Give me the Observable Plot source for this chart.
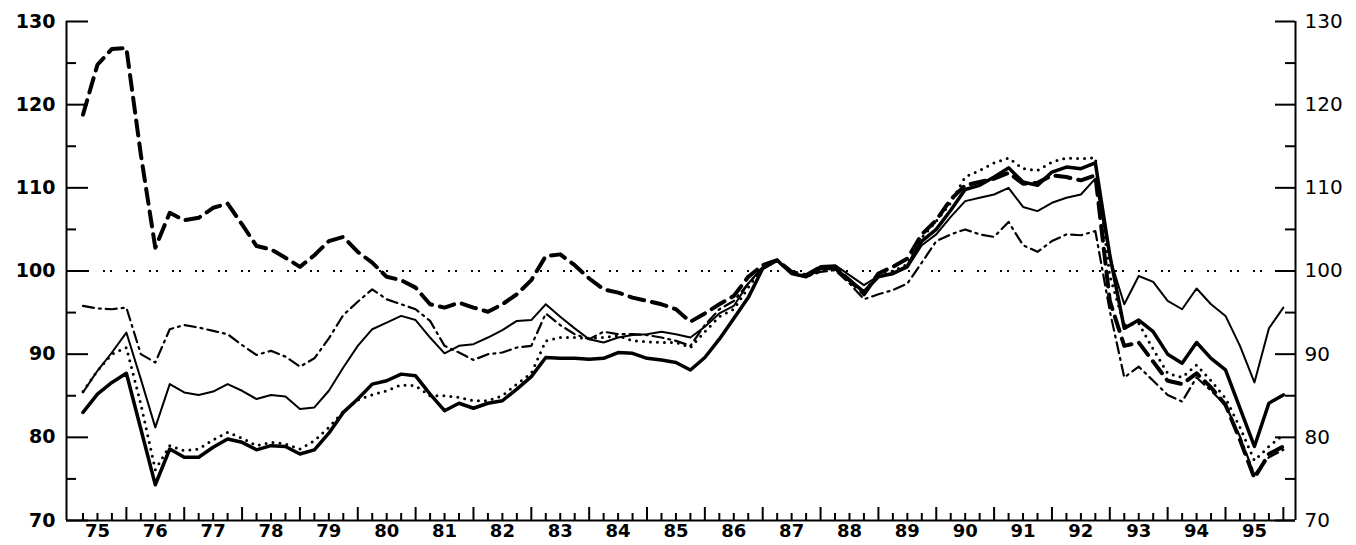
<!DOCTYPE html>
<html>
<head>
<meta charset="utf-8">
<script src="https://cdn.jsdelivr.net/npm/d3@7"></script>
<script src="https://cdn.jsdelivr.net/npm/@observablehq/plot@0.6"></script>
<style>
  html, body { margin: 0; padding: 0; background: #fff; }
  #chart svg { display: block; }
</style>
</head>
<body>
<div id="chart"></div>
<script>
// ---- data: quarterly index values, 1975Q1 .. 1995Q4 ----
const years = d3.range(1975, 1996);          // 75 .. 95
const yTicks = d3.range(70, 131, 5);
const yLabels = d3.range(70, 131, 10);

// thick solid line
const seriesThick = [
  83.0, 85.2, 86.6, 87.7,   81.0, 74.3, 78.6, 77.6,   77.6, 78.8, 79.8, 79.4,
  78.5, 79.0, 78.9, 78.0,   78.5, 80.5, 83.0, 84.6,   86.4, 86.8, 87.6, 87.4,
  85.2, 83.2, 84.1, 83.5,   84.1, 84.4, 85.8, 87.3,   89.6, 89.5, 89.5, 89.4,
  89.5, 90.2, 90.1, 89.5,   89.3, 89.0, 88.1, 89.6,   91.8, 94.3, 96.8, 100.3,
  101.3, 99.7, 99.3, 100.3, 100.3, 98.9, 97.5, 99.3,  99.7, 100.6, 103.6, 105.0,
  107.3, 109.8, 110.3, 111.3, 112.4, 110.7, 110.3, 111.9, 112.5, 112.3, 113.0, 101.9,
  93.1, 94.1, 92.7, 90.0,   88.9, 91.4, 89.5, 88.1,   83.5, 78.9, 84.1, 85.1
];
// thin solid line
const seriesThin = [
  85.4, 88.0, 90.2, 92.6,   87.0, 81.2, 86.4, 85.4,   85.1, 85.5, 86.4, 85.6,
  84.6, 85.1, 84.9, 83.4,   83.6, 85.6, 88.4, 91.0,   93.0, 93.8, 94.6, 94.1,
  92.0, 90.1, 91.0, 91.2,   92.0, 92.9, 94.0, 94.1,   96.0, 94.5, 93.1, 91.8,
  91.4, 92.0, 92.3, 92.4,   92.7, 92.4, 92.0, 93.3,   94.9, 95.8, 98.5, 100.5,
  101.2, 99.7, 99.3, 100.6, 100.7, 99.5, 98.3, 99.4,  99.6, 100.4, 103.1, 104.4,
  106.5, 108.4, 108.8, 109.2, 110.0, 107.7, 107.2, 108.2, 108.8, 109.2, 111.1, 101.6,
  96.0, 99.4, 98.7, 96.4,   95.4, 97.9, 96.0, 94.6,   91.0, 86.6, 93.1, 95.6
];
// thick dashed line
const seriesDashed = [
  118.8, 124.8, 126.7, 126.8, 114.0, 102.8, 107.0, 106.1, 106.4, 107.6, 108.1, 105.6,
  103.0, 102.6, 101.6, 100.5, 101.9, 103.6, 104.1, 102.3, 101.0, 99.3, 98.9, 98.0,
  96.0, 95.6, 96.2, 95.6,   95.1, 96.0, 97.2, 98.9,   101.8, 102.0, 100.7, 99.1,
  97.8, 97.4, 96.8, 96.4,   96.0, 95.4, 93.9, 94.9,   96.0, 97.0, 99.3, 100.7,
  101.3, 99.9, 99.5, 100.5, 100.4, 98.9, 97.2, 99.7,  100.5, 101.5, 104.4, 106.1,
  108.6, 110.3, 110.7, 111.1, 111.8, 110.5, 110.6, 111.5, 111.3, 110.9, 111.5, 96.4,
  91.0, 91.4, 89.1, 86.8,   86.4, 87.7, 86.0, 83.9,   79.7, 75.1, 78.0, 78.9
];
// dash-dot line
const seriesDashDot = [
  95.8, 95.5, 95.4, 95.6,   90.0, 89.0, 93.0, 93.5,   93.2, 92.8, 92.4, 91.1,
  89.9, 90.4, 89.7, 88.5,   89.5, 91.9, 94.7, 96.3,   97.8, 96.6, 96.0, 95.4,
  94.0, 91.0, 90.2, 89.3,   90.0, 90.2, 90.8, 91.0,   94.9, 93.5, 92.4, 91.8,
  92.7, 92.4, 92.4, 92.3,   92.0, 91.6, 91.0, 93.5,   95.4, 96.4, 98.5, 100.3,
  101.2, 99.7, 99.3, 99.9,  100.1, 98.5, 96.6, 97.2,  97.7, 98.5, 101.0, 103.6,
  104.4, 105.0, 104.4, 104.1, 105.9, 103.1, 102.3, 103.6, 104.4, 104.3, 104.8, 95.2,
  87.2, 88.5, 86.8, 85.1,   84.3, 87.2, 85.6, 83.9,   80.1, 75.5, 77.6, 78.5
];
// dotted line
const seriesDotted = [
  85.5, 88.0, 90.0, 90.8,   84.0, 76.1, 79.0, 78.4,   78.6, 79.7, 80.6, 79.9,
  79.0, 79.4, 79.2, 78.6,   79.6, 81.2, 83.1, 84.5,   85.1, 85.6, 86.3, 86.2,
  85.0, 85.0, 84.8, 84.4,   84.4, 85.0, 86.4, 87.7,   91.6, 92.0, 92.0, 91.9,
  92.0, 92.2, 91.6, 91.5,   91.4, 91.4, 90.8, 92.7,   94.5, 95.4, 98.0, 100.5,
  101.3, 99.8, 99.4, 100.4, 100.4, 99.0, 97.3, 99.5,  100.0, 100.8, 104.0, 106.0,
  108.2, 111.3, 112.1, 113.0, 113.6, 112.3, 112.1, 113.1, 113.6, 113.5, 113.6, 99.4,
  93.5, 93.7, 90.6, 87.7,   87.2, 88.7, 86.8, 84.7,   81.2, 77.2, 78.9, 80.3
];
const baseline = [100];

// ---- layout ----
const W = 1356, H = 545;
const mL = 66, mR = 61, mT = 21, mB = 25;
const xDom = [1974.965, 1996.21];
const yDom = [70, 130];
const pxX = (W - mL - mR) / (xDom[1] - xDom[0]);
const pxY = (H - mT - mB) / (yDom[1] - yDom[0]);

// quarter-end positions for the data
const quarterEnds = years.flatMap(y => [y + 0.25, y + 0.5, y + 0.75, y + 1]);
const toRows = vals => vals.map((v, i) => ({t: quarterEnds[i], v}));

const xTicks = [...years.slice(1), 1996].flatMap(y => [y - 0.75, y - 0.5, y - 0.25, y]);
const xLabelPos = years.map(y => y + 0.5);

const lineBase = {x: "t", y: "v", stroke: "#000", strokeLinejoin: "round", curve: "linear"};

const chart = Plot.plot({
  width: W, height: H,
  marginLeft: mL, marginRight: mR, marginTop: mT, marginBottom: mB,
  x: {type: "linear", domain: xDom},
  y: {type: "linear", domain: yDom},
  style: {fontFamily: "'DejaVu Sans', sans-serif", fontSize: "19px", background: "#fff", color: "#000"},
  marks: [
    // reference line at 100
    Plot.ruleY(baseline, {stroke: "#000", strokeWidth: 2, strokeDasharray: "2,5,2,14", strokeDashoffset: 9}),
    // frame
    Plot.ruleX([xDom[0], xDom[1]], {y1: yDom[0], y2: yDom[1], stroke: "#000", strokeWidth: 2}),
    Plot.ruleY([yDom[0]], {stroke: "#000", strokeWidth: 2}),
    // left ticks (inward)
    Plot.ruleY(yTicks, {y: d => d, x1: xDom[0], x2: d => xDom[0] + (d % 10 === 0 ? 22 : 10) / pxX, stroke: "#000", strokeWidth: 2}),
    // right ticks (inward)
    Plot.ruleY(yTicks, {y: d => d, x1: d => xDom[1] - (d % 10 === 0 ? 20 : 10) / pxX, x2: xDom[1], stroke: "#000", strokeWidth: 2}),
    // bottom ticks (upward)
    Plot.ruleX(xTicks, {x: d => d, y1: yDom[0], y2: d => yDom[0] + (Number.isInteger(d) ? 13 : 7) / pxY, stroke: "#000", strokeWidth: 2}),
    // axis labels
    Plot.axisY({anchor: "left", ticks: yLabels, tickSize: 0, tickPadding: 11, label: null, fontWeight: "bold", fontSize: 19}),
    Plot.axisY({anchor: "right", ticks: yLabels, tickSize: 0, tickPadding: 9, label: null, fontSize: 20}),
    Plot.axisX({anchor: "bottom", ticks: xLabelPos, tickFormat: d => String(Math.floor(d)).slice(2), tickSize: 0, tickPadding: 4, label: null, fontWeight: "bold", fontSize: 18}),
    // series
    Plot.line(toRows(seriesDashDot), {...lineBase, strokeWidth: 2.2, strokeDasharray: "11,5,2,5"}),
    Plot.line(toRows(seriesThin), {...lineBase, strokeWidth: 2}),
    Plot.line(toRows(seriesDotted), {...lineBase, strokeWidth: 3, strokeLinecap: "round", strokeDasharray: "0,7"}),
    Plot.line(toRows(seriesDashed), {...lineBase, strokeWidth: 4, strokeDasharray: "15,8"}),
    Plot.line(toRows(seriesThick), {...lineBase, strokeWidth: 3.5})
  ]
});
document.getElementById("chart").appendChild(chart);
</script>
</body>
</html>
